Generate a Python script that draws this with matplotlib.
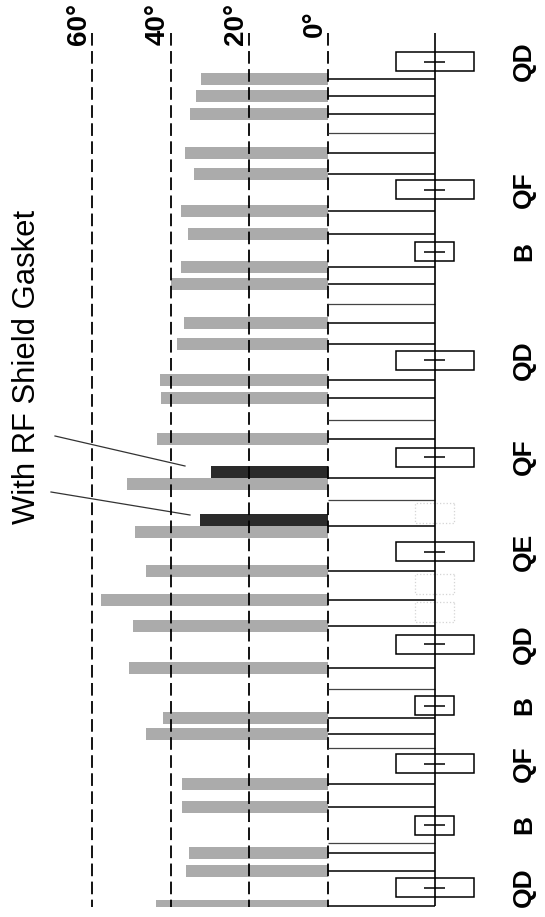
#!/usr/bin/env python3
"""
Rotated bar chart: betatron phase advance (deg) per monitor along the arc,
with the lattice sketch (QD / QF / B / QE) drawn beside the bars.
Two monitors carry an extra dark bar: measurement with RF shield gasket.
"""

import numpy as np
import matplotlib
matplotlib.use("Agg")
import matplotlib.pyplot as plt
from matplotlib.patches import Rectangle

# ── Data ───────────────────────────────────────────────────────────────────

# monitor positions along the arc (drawing units, top -> bottom)
BAR_POS = [79, 95.5, 114, 153, 173.5, 211, 233.5, 267, 283.5, 322.5, 343.5,
           379.5, 398, 439, 570.5, 599.5, 626, 667.5, 717.5, 733.5, 784,
           806.5, 852.5, 871, 906]
BAR_DEG = [32.4, 33.5, 35.0, 36.4, 34.2, 37.5, 35.7, 37.5, 39.9, 36.6, 38.5,
           42.7, 42.6, 43.4, 46.3, 57.8, 49.7, 50.7, 41.9, 46.2, 37.2,
           37.2, 35.4, 36.2, 43.7]

# monitors measured both without and with the RF shield gasket
PAIR_POS         = [477.5, 526.0]
PAIR_DEG_WITHOUT = [51.1, 49.2]
PAIR_DEG_WITH    = [29.8, 32.5]

# monitors with no reading
EMPTY_POS = [133, 304, 420, 500, 689, 748, 843]

# lattice elements
MAGNET_NAME = ["QD", "QF", "B", "QD", "QF", "QE", "QD", "B", "QF", "B", "QD"]
MAGNET_POS  = [61.5, 189.5, 251.5, 360, 457, 551.5, 644, 705.5, 763.5, 825, 887.5]
GHOST_POS   = [513, 584, 612]     # faint (removed) elements

GRID_DEG = [0, 20, 40, 60]
TITLE    = "With RF Shield Gasket"

# ── Layout / style ─────────────────────────────────────────────────────────

FIG_W, FIG_H = 545, 917
ZERO_PX      = 328          # pixel column of 0 deg
PX_PER_DEG   = 3.93
AX_BOTTOM    = 907          # bars are clipped here
GRID_TOP     = 33

GRAY = "#ababab"
DARK = "#2a2a2a"
BAR_H = 12
PAIR_OFF = 6


def px2deg(px: float) -> float:
    return (ZERO_PX - px) / PX_PER_DEG


LATTICE_X = px2deg(435)
QUAD_HW   = 39 / PX_PER_DEG
BEND_HW   = 19.5 / PX_PER_DEG
TICK_HW   = 10.5 / PX_PER_DEG
LABEL_X   = px2deg(524)

plt.rcParams["font.family"] = ["Liberation Sans Narrow", "Liberation Sans", "DejaVu Sans"]

fig = plt.figure(figsize=(FIG_W / 100, FIG_H / 100), dpi=100)
ax = fig.add_axes([0, (FIG_H - AX_BOTTOM) / FIG_H, 1, AX_BOTTOM / FIG_H])
ax.set_xlim(px2deg(0), px2deg(FIG_W))
ax.set_ylim(AX_BOTTOM, 0)
ax.axis("off")

# ── Bars ───────────────────────────────────────────────────────────────────

ax.barh(BAR_POS, BAR_DEG, height=BAR_H, color=GRAY, linewidth=0, zorder=2)
pair_pos = np.array(PAIR_POS)
ax.barh(pair_pos + PAIR_OFF, PAIR_DEG_WITHOUT, height=BAR_H, color=GRAY,
        linewidth=0, zorder=2)
ax.barh(pair_pos - PAIR_OFF, PAIR_DEG_WITH, height=BAR_H, color=DARK,
        linewidth=0, zorder=2)

# dashed value grid
ax.vlines(GRID_DEG, GRID_TOP, AX_BOTTOM, colors="black", linewidth=1.3,
          linestyles=(0, (7, 3)), zorder=3)
for v in GRID_DEG:
    ax.text(v, 24, f"{v}°", rotation=90, ha="right", va="center",
            fontsize=20, fontweight="bold")

# ── Lattice sketch ─────────────────────────────────────────────────────────

ax.hlines(BAR_POS + PAIR_POS, 0, LATTICE_X, colors="black", linewidth=1.1, zorder=3)
ax.hlines(EMPTY_POS, 0, LATTICE_X, colors="#444444", linewidth=0.9, zorder=3)
ax.vlines(LATTICE_X, GRID_TOP, AX_BOTTOM - 1, colors="black", linewidth=1.2, zorder=3)

for name, pos in zip(MAGNET_NAME, MAGNET_POS):
    hw = QUAD_HW if name.startswith("Q") else BEND_HW
    ax.add_patch(Rectangle((LATTICE_X - hw, pos - 9.5), 2 * hw, 19,
                           fill=False, edgecolor="black", linewidth=1.1, zorder=3))
    ax.hlines(pos, LATTICE_X - TICK_HW, LATTICE_X + TICK_HW,
              colors="black", linewidth=1.1, zorder=3)
    ax.text(LABEL_X, pos, name, rotation=90, ha="center", va="center",
            fontsize=19, fontweight="bold")

for pos in GHOST_POS:
    ax.add_patch(Rectangle((LATTICE_X - BEND_HW, pos - 10), 2 * BEND_HW, 20,
                           fill=False, edgecolor="#d4d4d4", linewidth=0.9,
                           linestyle=":", zorder=1))

# ── Title and pointer lines ────────────────────────────────────────────────

title = ax.text(px2deg(27), 366.5, TITLE, rotation=90, ha="center",
                va="center", fontsize=26)
ax.plot([px2deg(55), px2deg(185)], [436, 466], color="#333333", linewidth=0.9)
ax.plot([px2deg(51), px2deg(190)], [492, 515], color="#333333", linewidth=0.9)

# fit title length to the reference (~313 px)
fig.canvas.draw()
bb = title.get_window_extent(fig.canvas.get_renderer())
title.set_fontsize(title.get_fontsize() * 313 / bb.height)

fig.savefig("out.png", dpi=100)
